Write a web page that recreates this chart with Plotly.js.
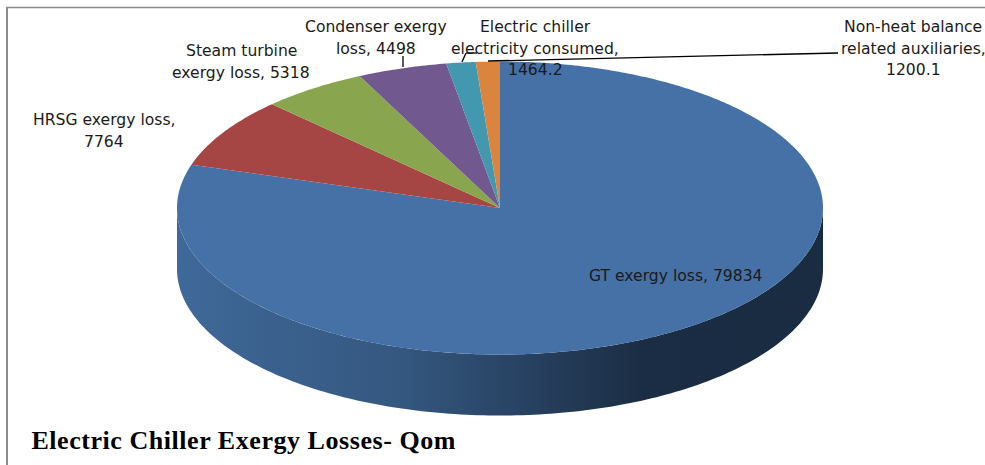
<!DOCTYPE html>
<html><head><meta charset="utf-8">
<script src="https://cdn.plot.ly/plotly-3.0.1.min.js"></script>
<style>html,body{margin:0;padding:0;background:#fff}#c{width:985px;height:465px}
.annotation[data-index="13"] text{letter-spacing:0.55px}</style>
</head><body><div id="c"></div>
<script>
const categories = ["GT exergy loss","HRSG exergy loss","Steam turbine exergy loss","Condenser exergy loss","Electric chiller electricity consumed","Non-heat balance related auxiliaries"];
const values = [79834,7764,5318,4498,1464.2,1200.1];
const colors = ["#4571a7","#a64644","#89a54e","#71588f","#4198af","#db843d"];
const labelLines = [["GT exergy loss, 79834"],["HRSG exergy loss,","7764"],["Steam turbine","exergy loss, 5318"],["Condenser exergy","loss, 4498"],["Electric chiller","electricity consumed,","1464.2"],["Non-heat balance","related auxiliaries,","1200.1"]];
const labelX = [676,104,241,376,535,913];
const labelY = [276,120,51,27,27,27];
const lineStep = 21.5;
const chartTitle = "Electric Chiller Exergy Losses- Qom";
const cx=500, cy=208, rx=323, ry=146.5, depth=61;
const sideStops = [[0,"#3f6999"],[0.35,"#34577f"],[0.72,"#1b2d44"],[1,"#1a2c42"]];

const total = values.reduce((a,b)=>a+b,0);
const px = t => cx+rx*Math.sin(t), py = t => cy-ry*Math.cos(t);
const traces = [];
// side wall (front half of rim)
const sx=[],sy=[];
for(let i=0;i<=180;i++){const t=Math.PI/2+i*Math.PI/180;sx.push(px(t));sy.push(py(t));}
for(let i=180;i>=0;i--){const t=Math.PI/2+i*Math.PI/180;sx.push(px(t));sy.push(py(t)+depth);}
sx.push(sx[0]);sy.push(sy[0]);
traces.push({type:"scatter",x:sx,y:sy,mode:"none",fill:"toself",fillgradient:{type:"horizontal",colorscale:sideStops},hoverinfo:"skip",showlegend:false});
// top face
let cum=0;
values.forEach((v,i)=>{
  const a0=cum/total*2*Math.PI, a1=(cum+v)/total*2*Math.PI; cum+=v;
  const x=[cx],y=[cy], n=Math.max(4,Math.ceil((a1-a0)*90));
  for(let k=0;k<=n;k++){const t=a0+(a1-a0)*k/n;x.push(px(t));y.push(py(t));}
  x.push(cx);y.push(cy);
  traces.push({type:"scatter",name:categories[i],x,y,mode:"none",fill:"toself",fillcolor:colors[i],hoverinfo:"skip",showlegend:false});
});
const annotations=[];
labelLines.forEach((ls,i)=>ls.forEach((t,j)=>annotations.push({xref:"x",yref:"y",x:labelX[i],y:labelY[i]+j*lineStep,text:t,showarrow:false,xanchor:"center",yanchor:"middle",font:{family:"DejaVu Sans",size:15.6,color:"#1a1a1a"}})));
annotations.push({xref:"x",yref:"y",x:39,y:440,text:"<b>"+chartTitle+"</b>",showarrow:false,xanchor:"left",yanchor:"middle",font:{family:"Liberation Serif",size:26,color:"#000"}});
const seg=(x0,y0,x1,y1,color,width)=>({type:"line",xref:"x",yref:"y",x0,y0,x1,y1,line:{color,width},layer:"above"});
const shapes=[
 seg(6,7.5,985,7.5,"#8c8c8c",1.5), seg(7,7,7,465,"#8c8c8c",2),
 seg(403,56,403,67,"#000",1.3),
 seg(462,62,466,53,"#000",1.3), seg(466,53,477,53,"#000",1.3),
 seg(488,61,838,53,"#000",1.3)
];
Plotly.newPlot("c",traces,{
 width:985,height:465,margin:{l:0,r:0,t:0,b:0},paper_bgcolor:"#fff",plot_bgcolor:"#fff",showlegend:false,
 xaxis:{range:[0,985],visible:false,fixedrange:true},
 yaxis:{range:[465,0],visible:false,fixedrange:true},
 annotations,shapes
},{displayModeBar:false,staticPlot:true});
</script></body></html>
